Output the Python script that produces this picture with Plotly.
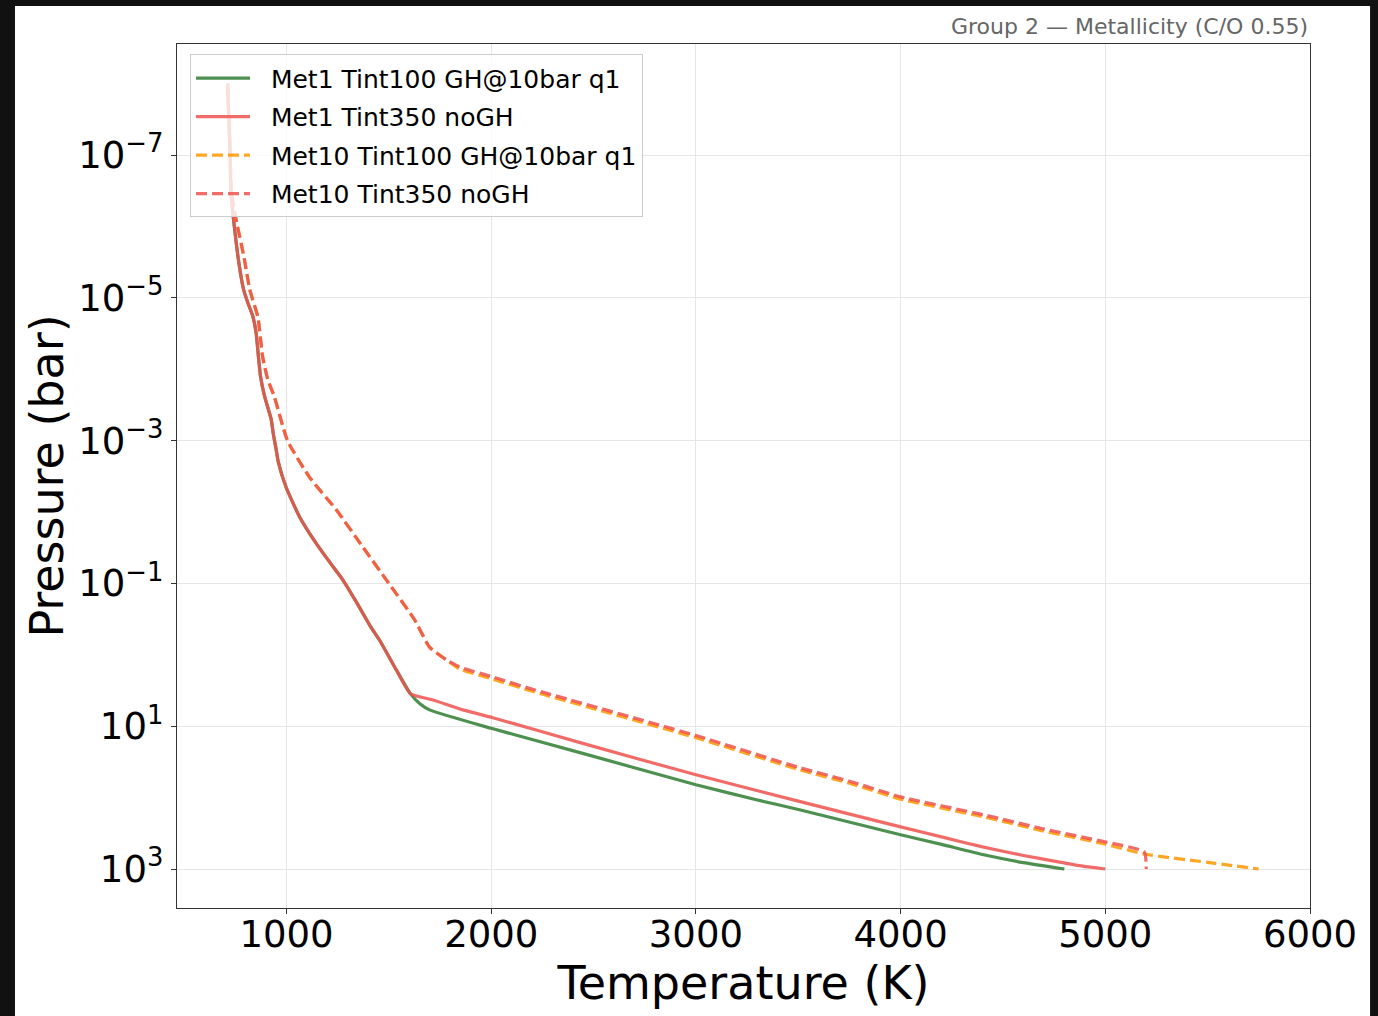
import plotly.graph_objects as go

# ---------------- data ----------------
met1_tint100_T = [712, 725, 728, 745, 767, 790, 815, 835, 852, 862, 873, 893, 925, 935, 948, 960,
                  998, 1064, 1145, 1210, 1275, 1340, 1410, 1454, 1536, 1605, 1650, 1699,
                  2000, 2447, 3000, 3295, 3506, 4000, 4200, 4406, 4600, 4800]
met1_tint100_P = [1e-8, 1e-7, 3.2e-7, 1e-6, 3.2e-6, 7.6e-6, 1.26e-5, 1.8e-5, 3.2e-5, 6.3e-5, 1.26e-4,
                  2.4e-4, 5e-4, 7.9e-4, 1.26e-3, 2e-3, 4.5e-3, 1.17e-2, 2.75e-2, 5e-2, 8.9e-2, 0.18,
                  0.4, 0.62, 1.62, 3.5, 4.8, 5.9, 10.7, 24, 66, 107, 148, 331, 452, 631, 813, 1000]

met1_tint350_T = [712, 725, 728, 745, 767, 790, 815, 835, 852, 862, 873, 893, 925, 935, 948, 960,
                  998, 1064, 1145, 1210, 1275, 1340, 1410, 1454, 1536, 1605, 1716, 1861,
                  2008, 2447, 3000, 3500, 4000, 4200, 4400, 4600, 4770, 4890, 5000]
met1_tint350_P = [1e-8, 1e-7, 3.2e-7, 1e-6, 3.2e-6, 7.6e-6, 1.26e-5, 1.8e-5, 3.2e-5, 6.3e-5, 1.26e-4,
                  2.4e-4, 5e-4, 7.9e-4, 1.26e-3, 2e-3, 4.5e-3, 1.17e-2, 2.75e-2, 5e-2, 8.9e-2, 0.18,
                  0.4, 0.62, 1.62, 3.5, 4.3, 5.9, 7.6, 17.4, 47.9, 112, 257, 355, 490, 646, 794, 912, 1000]

met10_tint100_T = [712, 725, 730, 752, 793, 820, 860, 883, 909, 940, 1005, 1112, 1243, 1373, 1500,
                   1625, 1699, 1780, 1845, 2008, 2187, 2285, 3001, 3506, 3751, 4001, 4406, 4700,
                   4999, 5190, 5537, 5749]
met10_tint100_P = [1e-8, 1e-7, 3.2e-7, 7.6e-7, 2.75e-6, 7.6e-6, 1.86e-5, 6.6e-5, 1.41e-4, 2.4e-4,
                   1e-3, 3.24e-3, 9.3e-3, 3.1e-2, 0.1, 0.32, 0.78, 1.17, 1.58, 2.19, 3.16, 3.8,
                   14.5, 40.7, 63, 105, 186, 295, 447, 617, 832, 1000]

met10_tint350_T = [712, 725, 730, 752, 793, 820, 860, 883, 909, 940, 1005, 1112, 1243, 1373, 1500,
                   1625, 1699, 1780, 1845, 2008, 2187, 2285, 3001, 3506, 3751, 4001, 4406, 4700,
                   4999, 5190, 5200]
met10_tint350_P = [1e-8, 1e-7, 3.2e-7, 7.6e-7, 2.75e-6, 7.6e-6, 1.86e-5, 6.6e-5, 1.41e-4, 2.4e-4,
                   1e-3, 3.24e-3, 9.3e-3, 3.1e-2, 0.1, 0.32, 0.78, 1.17, 1.48, 2.04, 2.95, 3.55,
                   13.5, 38, 58.9, 97.7, 174, 275, 417, 575, 1000]

series_names = ["Met1 Tint100 GH@10bar q1", "Met1 Tint350 noGH",
                "Met10 Tint100 GH@10bar q1", "Met10 Tint350 noGH"]

x_tick_vals = [1000, 2000, 3000, 4000, 5000, 6000]
y_tick_vals = [1e-7, 1e-5, 1e-3, 1e-1, 1e1, 1e3]
y_tick_text = ["10<sup>−7</sup>", "10<sup>−5</sup>", "10<sup>−3</sup>",
               "10<sup>−1</sup>", "10<sup>1</sup>", "10<sup>3</sup>"]

title_text = "Group 2 — Metallicity (C/O 0.55)"
x_title = "Temperature (K)"
y_title = "Pressure (bar)"

# ---------------- figure ----------------
FONT = "DejaVu Sans"
GREEN = "#2E7D32"
RED = "#EF5350"
ORANGE = "#FF9800"
NB = "\u00a0\u00a0"

fig = go.Figure()
styles = [
    (met1_tint100_T, met1_tint100_P, GREEN, "solid"),
    (met1_tint350_T, met1_tint350_P, RED, "solid"),
    (met10_tint100_T, met10_tint100_P, ORANGE, "11px,5px"),
    (met10_tint350_T, met10_tint350_P, RED, "11px,5px"),
]
for i, (T, P, col, dash) in enumerate(styles):
    fig.add_trace(go.Scatter(
        x=T, y=P, mode="lines", name=NB + series_names[i],
        line=dict(color=col, width=3.2, dash=dash, shape="spline", smoothing=0.5),
        opacity=0.85, legendgroup=f"g{i}",
    ))

fig.update_layout(
    width=1378, height=1016,
    margin=dict(l=177, r=68, t=44, b=108),
    paper_bgcolor="#111111",
    plot_bgcolor="white",
    font=dict(family=FONT, color="black"),
    showlegend=True,
    legend=dict(
        x=0.0115, y=0.988, xanchor="left", yanchor="top",
        bgcolor="rgba(255,255,255,0.8)", bordercolor="#cccccc", borderwidth=1,
        font=dict(family=FONT, size=25, color="black"),
        traceorder="grouped", tracegroupgap=3, itemwidth=54,
    ),
    shapes=[dict(type="rect", xref="paper", yref="paper",
                 x0=-0.143, x1=1.053, y0=-0.2, y1=1.044,
                 fillcolor="white", line=dict(width=0), layer="below")],
    annotations=[dict(text=title_text, xref="paper", yref="paper", x=1.0, y=1.0197,
                      xanchor="right", yanchor="middle", showarrow=False,
                      font=dict(family=FONT, size=22, color="#666666"))],
)

fig.update_xaxes(
    range=[465, 6000], tickvals=x_tick_vals, automargin=False,
    tickfont=dict(size=37), ticks="outside", ticklen=5, tickcolor="#333",
    ticklabelstandoff=-12,
    showline=True, mirror=True, linecolor="#333", linewidth=1.3,
    showgrid=True, gridcolor="#e6e6e6", gridwidth=1, zeroline=False,
    title=dict(text=x_title, font=dict(size=46), standoff=8),
)
fig.update_yaxes(
    type="log", range=[3.546, -8.555], tickvals=y_tick_vals, ticktext=y_tick_text,
    automargin=False,
    tickfont=dict(size=37), ticks="outside", ticklen=5, tickcolor="#333",
    showline=True, mirror=True, linecolor="#333", linewidth=1.3,
    showgrid=True, gridcolor="#e6e6e6", gridwidth=1, zeroline=False,
    title=dict(text=y_title, font=dict(size=46), standoff=0),
)

fig.write_html("out.html")
